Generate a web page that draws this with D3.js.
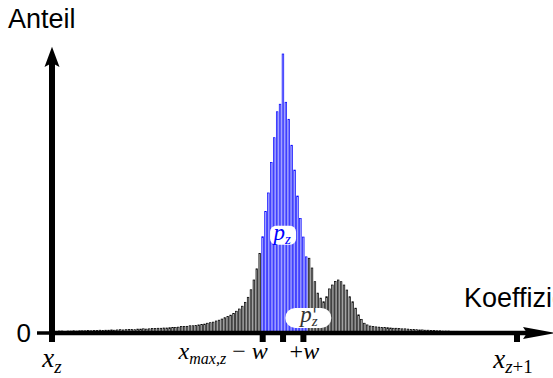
<!DOCTYPE html>
<html>
<head>
<meta charset="utf-8">
<script src="https://cdn.jsdelivr.net/npm/d3@7"></script>
<style>
  body { margin: 0; background: #fff; }
  svg { display: block; }
  .axis-title { font-family: "Liberation Sans", Arial, sans-serif; font-size: 27px; fill: #000; }
  .math { font-family: "Liberation Serif", "Times New Roman", serif; font-style: italic; fill: #000; }
  .upright { font-style: normal; }
</style>
</head>
<body>
<div id="chart"></div>
<script>
// share per coefficient bin between x_z and x_{z+1}
const anteil = [
    0.6, 0.6, 0.7, 0.7, 0.6, 0.7, 0.7, 0.8, 0.7, 0.8,
    0.8, 0.8, 0.9, 0.8, 0.9, 0.9, 1.0, 0.9, 1.0, 1.0,
    1.1, 1.0, 1.1, 1.2, 1.1, 1.2, 1.3, 1.3, 1.2, 1.4,
    1.4, 1.5, 1.4, 1.5, 1.6, 1.6, 1.7, 1.7, 1.8, 1.8,
    1.9, 2.0, 2.0, 2.1, 2.3, 2.3, 2.4, 2.6, 2.6, 2.7,
    2.9, 3.0, 3.2, 3.5, 3.7, 3.9, 4.3, 4.6, 5.0, 5.5,
    5.9, 6.4, 7.0, 7.8, 8.6, 9.6, 11.0, 12.8, 15.5, 19.0, 23.0, 28.5,
    34.5, 43.5, 50.2, 61.1, 70.0, 79.3, 82.0, 100, 82.7, 76.6, 67.3, 58.4, 49.1, 41.0, 34.4, 27.3,
    26.8, 23.3, 18.4, 14.3, 12.5, 11.2, 13.0, 15.8, 17.2, 18.5, 19.0, 18.4, 17.2, 15.4, 13.0, 11.2,
    8.9, 6.5, 4.9, 3.5, 2.9, 2.5,
    2.3, 2.2, 2.1, 2.0, 2.0, 1.9, 1.8, 1.7, 1.7, 1.6,
    1.5, 1.5, 1.4, 1.3, 1.3, 1.2, 1.1, 1.1, 1.0, 1.0,
    0.9, 0.9, 0.8, 0.8, 0.7, 0.7, 0.7, 0.6, 0.6, 0.6,
    0.5, 0.5, 0.5, 0.5, 0.4, 0.4, 0.4, 0.4, 0.4, 0.3,
    0.3, 0.3, 0.3, 0.3, 0.3, 0.2, 0.2, 0.2, 0.2, 0.2
];

const XMAX_BIN = 79;   // bin holding the maximum
const W_BINS = 7;      // half window w in bins
const PZ_FIRST = 72;   // first bin counted into p_z
const PZ_LAST = 87;    // last bin counted into p_z

// tick positions in bin units
const tickBins = [0, XMAX_BIN + 0.5 - W_BINS, XMAX_BIN + 0.5, XMAX_BIN + 0.5 + W_BINS, anteil.length];

const WIDTH = 553;
const HEIGHT = 378;

let xScale = d3.scaleLinear().domain([0, anteil.length]).range([52, 517]);
let yScale = d3.scaleLinear().domain([0, 100]).range([333, 54]);

const svg = d3.select('#chart')
    .append('svg')
    .attr('width', WIDTH)
    .attr('height', HEIGHT);

const y0 = yScale(0);
const x0 = xScale(0);

/** histogram bars */
const bars = anteil.map((v, i) => ({ i, v, pz: i >= PZ_FIRST && i <= PZ_LAST }));

svg.append('g')
    .selectAll('rect')
    .data(bars)
    .enter()
    .append('rect')
    .attr('x', (d) => xScale(d.i) + 0.55)
    .attr('y', (d) => yScale(d.v))
    .attr('width', (d) => xScale(d.i + 1) - xScale(d.i) - 1.3)
    .attr('height', (d) => y0 - yScale(d.v))
    .style('fill', (d) => d.pz ? '#b0b0ff' : '#ababab')
    .style('stroke', (d) => d.pz ? '#0000ff' : '#000')
    .style('stroke-width', 0.7);

/** axes */
svg.append('line')
    .attr('x1', x0 - 15).attr('x2', x0)
    .attr('y1', y0).attr('y2', y0)
    .style('stroke', '#000').style('stroke-width', 3.5);

svg.append('line')
    .attr('x1', x0).attr('x2', 530)
    .attr('y1', y0).attr('y2', y0)
    .style('stroke', '#000').style('stroke-width', 4.5);

svg.append('line')
    .attr('x1', x0).attr('x2', x0)
    .attr('y1', y0 + 9).attr('y2', 62)
    .style('stroke', '#000').style('stroke-width', 6);

// arrow heads
svg.append('path')
    .attr('d', `M${x0},46.7 L${x0 + 7.5},67 L${x0},63 L${x0 - 7.5},67 Z`)
    .style('fill', '#000');

svg.append('path')
    .attr('d', `M556,${y0} L523,${y0 - 6} L527,${y0} L523,${y0 + 6} Z`)
    .style('fill', '#000');

/** tick marks below the axis */
svg.append('g')
    .selectAll('rect')
    .data(tickBins.slice(1))
    .enter()
    .append('rect')
    .attr('x', (d) => xScale(d) - 3)
    .attr('y', y0)
    .attr('width', 6)
    .attr('height', 9)
    .style('fill', '#000');

/** titles */
svg.append('text')
    .attr('class', 'axis-title')
    .attr('x', 8).attr('y', 28)
    .text('Anteil');

svg.append('text')
    .attr('class', 'axis-title')
    .attr('x', 464).attr('y', 307)
    .text('Koeffizienten');

svg.append('text')
    .attr('class', 'axis-title')
    .attr('x', 31).attr('y', y0 + 9)
    .attr('text-anchor', 'end')
    .style('font-size', '26px')
    .text('0');

/** tick labels */
function mathLabel(x, y, size, anchor) {
    return svg.append('text')
        .attr('class', 'math')
        .attr('x', x).attr('y', y)
        .attr('text-anchor', anchor)
        .style('font-size', size + 'px');
}

let t = mathLabel(xScale(tickBins[0]), 367, 27, 'middle');
t.append('tspan').text('x');
t.append('tspan').attr('dy', 6).style('font-size', '19px').text('z');

t = mathLabel(xScale(tickBins[1]) + 5, 359, 24, 'end');
t.append('tspan').text('x');
t.append('tspan').attr('dy', 5).style('font-size', '16px').text('max,z');
t.append('tspan').attr('dy', -5).attr('class', 'upright').text(' \u2212 ');
t.append('tspan').text('w');

t = mathLabel(xScale(tickBins[3]) + 1, 359, 24, 'middle');
t.append('tspan').attr('class', 'upright').text('+');
t.append('tspan').text('w');

t = mathLabel(xScale(tickBins[4]) - 4, 368, 27, 'middle');
t.append('tspan').text('x');
t.append('tspan').attr('dy', 5).style('font-size', '19px').text('z');
t.append('tspan').attr('class', 'upright').style('font-size', '19px').text('+1');

/** p_z annotations */
const pzX = xScale(XMAX_BIN + 0.5);
const pzY = yScale(35);
svg.append('rect')
    .attr('x', pzX - 13).attr('y', pzY - 9.5)
    .attr('width', 26).attr('height', 19)
    .attr('rx', 6)
    .style('fill', '#fff');
t = svg.append('text')
    .attr('class', 'math')
    .attr('x', pzX - 1).attr('y', pzY + 5)
    .attr('text-anchor', 'middle')
    .style('font-size', '23px')
    .style('fill', '#0000ff');
t.append('tspan').style('fill', '#0000ff').text('p');
t.append('tspan').attr('dy', 4).style('font-size', '15px').style('fill', '#0000ff').text('z');

const ppX = xScale(PZ_LAST + 1.2);
const ppY = yScale(5.4);
svg.append('rect')
    .attr('x', ppX - 23).attr('y', ppY - 10)
    .attr('width', 46).attr('height', 20)
    .attr('rx', 10)
    .style('fill', '#fff');
t = svg.append('text')
    .attr('class', 'math')
    .attr('x', ppX - 8).attr('y', ppY + 4)
    .style('font-size', '23px')
    .style('fill', '#333');
t.append('tspan').text('p');
t.append('tspan').attr('dy', 4).style('font-size', '15px').text('z');
// prime above the subscript
svg.append('text')
    .attr('class', 'math')
    .attr('x', ppX + 4).attr('y', ppY + 2)
    .style('font-size', '17px')
    .style('font-family', '"DejaVu Serif", serif')
    .style('fill', '#333')
    .text("'");
</script>
</body>
</html>
